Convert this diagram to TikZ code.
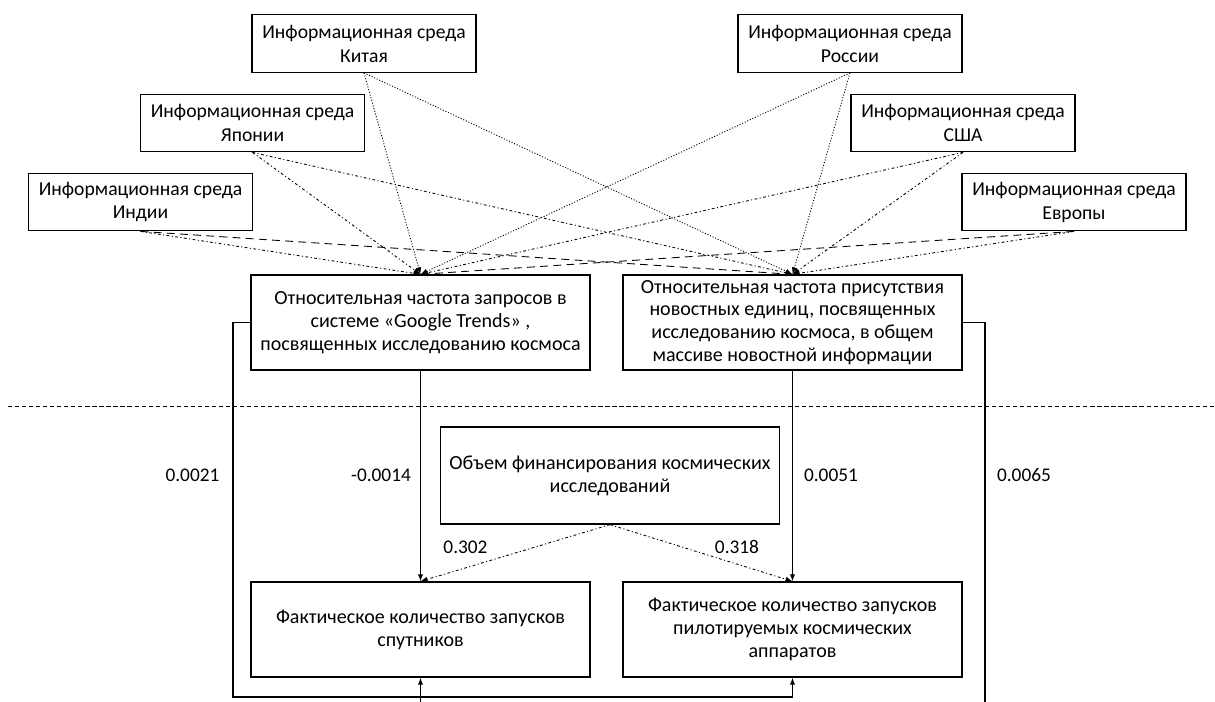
\documentclass[tikz,border=0pt]{standalone}
\usepackage{fontspec}
\setmainfont{Carlito}
\usetikzlibrary{arrows.meta,positioning,calc}

\begin{document}
\begin{tikzpicture}[x=0.02cm, y=-0.02cm,
		env/.style={draw, line width=0.75pt, minimum width=4.48cm, minimum height=1.15cm,
			align=center, inner sep=0pt, font=\fontsize{11.2}{13.6}\selectfont},
		blk/.style={draw, line width=0.75pt, minimum width=6.78cm, minimum height=1.9cm,
			align=center, inner sep=0pt, font=\fontsize{11.4}{13}\selectfont},
		lnk/.style={-{Latex[length=4pt,width=3pt]}, line width=0.5pt},
		fine/.style={lnk, dash pattern=on 0.6pt off 1pt},
		dd/.style={lnk, dash pattern=on 1.6pt off 1.4pt on 0.6pt off 1.4pt},
		ld/.style={lnk, dash pattern=on 4.5pt off 3pt},
		solid/.style={lnk, line width=0.6pt},
		num/.style={font=\fontsize{11}{13.6}\selectfont}
		]
		\useasboundingbox (0,0) rectangle (1215,702);
		\clip (0,0) rectangle (1215,702);
		
		% ── Information environments ──
		\node[env] (china)  at (364,43.5)   {Информационная среда\\Китая};
		\node[env] (japan)  at (252.5,123)  {Информационная среда\\Японии};
		\node[env] (india)  at (140.5,202)  {Информационная среда\\Индии};
		\node[env] (russia) at (850,43.5)   {Информационная среда\\России};
		\node[env] (usa)    at (963,123)    {Информационная среда\\США};
		\node[env] (europe) at (1074,202)   {Информационная среда\\Европы};
		
		% ── Indicators ──
		\node[blk] (trends) at (420.5,322.5) {Относительная частота запросов в\\системе «Google Trends» ,\\посвященных исследованию космоса};
		\node[blk] (news)   at (792.5,322.5) {Относительная частота присутствия\\новостных единиц, посвященных\\исследованию космоса, в общем\\массиве новостной информации};
		
		% ── Separator ──
		\coordinate (sepl) at (8,406);
		\coordinate (sepr) at (1215,406);
		\draw[line width=0.5pt, dash pattern=on 2.4pt off 1.6pt] (sepl) -- (sepr);
		
		% ── Funding and launches ──
		\node[blk, minimum height=1.94cm] (funding) at (610,475.5) {Объем финансирования космических\\исследований};
		\node[blk] (sat)    at (420.5,629.5) {Фактическое количество запусков\\спутников};
		\node[blk] (manned) at (792.5,629.5) {Фактическое количество запусков\\пилотируемых космических\\аппаратов};
		
		% Links to indicators
		\draw[fine] (china.south)  -- (trends.north);
		\draw[fine] (china.south)  -- (news.north);
		\draw[fine] (russia.south) -- (trends.north);
		\draw[fine] (russia.south) -- (news.north);
		\draw[dd]   (japan.south)  -- (trends.north);
		\draw[dd]   (japan.south)  -- (news.north);
		\draw[dd]   (usa.south)    -- (trends.north);
		\draw[dd]   (usa.south)    -- (news.north);
		\draw[dd]   (india.south)  -- (trends.north);
		\draw[ld]   (india.south)  -- (news.north);
		\draw[ld]   (europe.south) -- (trends.north);
		\draw[dd]   (europe.south) -- (news.north);
		
		% Links to launches
		\coordinate (lbend) at (233,697);
		\coordinate (rbend) at (985,720);
		\draw[solid] (trends.south) -- (sat.north);
		\draw[solid] (news.south)   -- (manned.north);
		\draw[solid] (trends.west)  -| (lbend) -| (manned.south);
		\draw[solid] (news.east)    -| (rbend) -| (sat.south);
		\draw[dd] (funding.south) -- (sat.north);
		\draw[dd] (funding.south) -- (manned.north);
		
		% Coefficients
		\node[num] (c1) at (192.5,475) {0.0021};
		\node[num] (c2) at (381,475)   {-0.0014};
		\node[num] (c3) at (831,475)   {0.0051};
		\node[num] (c4) at (1024,475)  {0.0065};
		\node[num] (c5) at (465.5,547) {0.302};
		\node[num] (c6) at (737,547)   {0.318};
	\end{tikzpicture}
\end{document}
